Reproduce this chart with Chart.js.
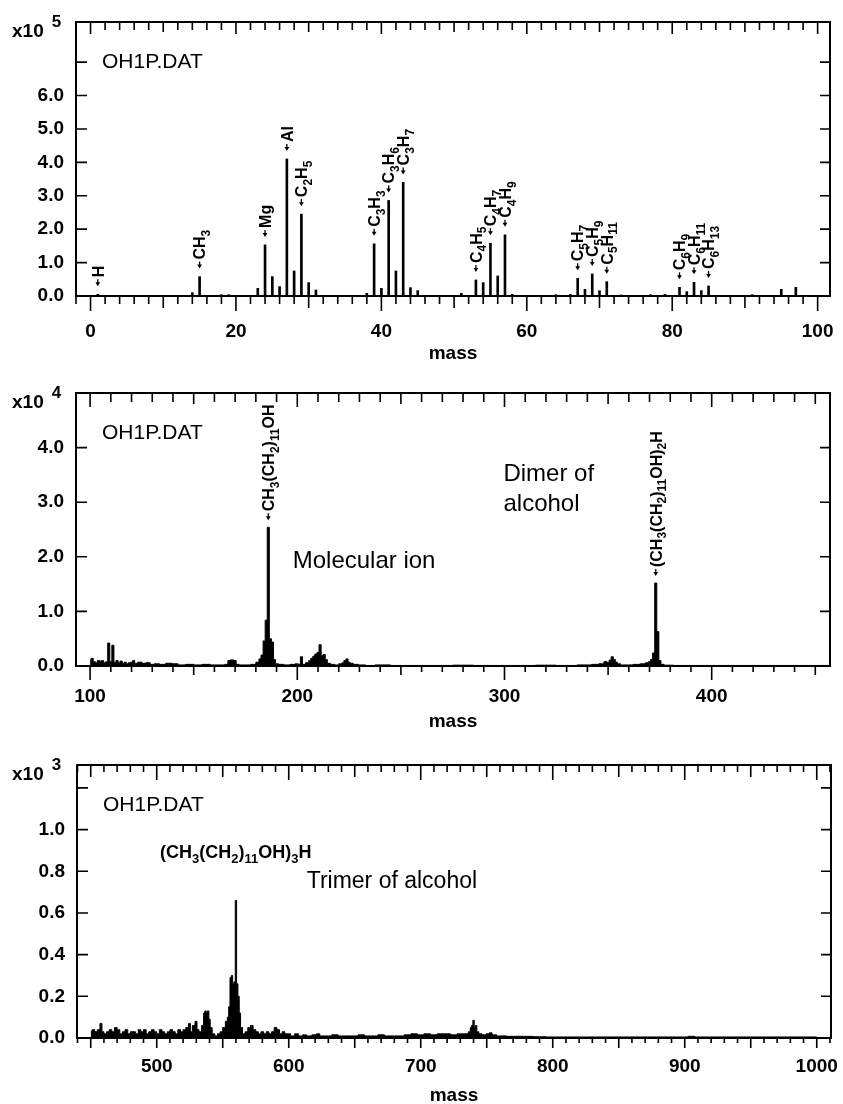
<!DOCTYPE html>
<html lang="en">
<head>
<meta charset="UTF-8" />
<title>OH1P.DAT mass spectra</title>
<script src="https://cdn.jsdelivr.net/npm/chart.js"></script>
<style>
  html, body { margin: 0; background: #fff; overflow: hidden; }
  canvas { position: absolute; left: 0; }
  #c1 { top: 0; }
  #c2 { top: 372px; }
  #c3 { top: 736px; }
</style>
</head>
<body>
<canvas id="c1" width="843" height="372"></canvas>
<canvas id="c2" width="843" height="364"></canvas>
<canvas id="c3" width="843" height="372"></canvas>
<script>
const FONT = '"Liberation Sans", Arial, Helvetica, sans-serif';

// fragment region, intensity x10^5
const lowMass   = [1, 14, 15, 18, 19, 23, 24, 25, 26, 27, 28, 29, 30, 31, 38, 39, 40, 41, 42, 43, 44, 45, 51, 53, 54, 55, 56, 57, 58, 64, 66, 67, 68, 69, 70, 71, 73, 77, 79, 81, 82, 83, 84, 85, 91, 95, 97];
const lowCounts = [0.05, 0.1, 0.58, 0.04, 0.04, 0.23, 1.53, 0.58, 0.28, 4.1, 0.75, 2.45, 0.4, 0.18, 0.08, 1.56, 0.23, 2.86, 0.75, 3.4, 0.25, 0.16, 0.08, 0.48, 0.4, 1.58, 0.6, 1.83, 0.05, 0.04, 0.05, 0.53, 0.2, 0.66, 0.16, 0.43, 0.03, 0.04, 0.05, 0.26, 0.13, 0.41, 0.16, 0.3, 0.04, 0.2, 0.26];
const lowTagMass = [1, 15, 24, 27, 29, 39, 41, 43, 53, 55, 57, 67, 69, 71, 81, 83, 85];
const lowTagText = ['H', 'CH_3', 'Mg', 'Al', 'C_2H_5', 'C_3H_3', 'C_3H_6', 'C_3H_7', 'C_4H_5', 'C_4H_7', 'C_4H_9', 'C_5H_7', 'C_5H_9', 'C_5H_11', 'C_6H_9', 'C_6H_11', 'C_6H_13'];
const lowXLabels = [0, 20, 40, 60, 80, 100];
const lowYLabels = [0, 1, 2, 3, 4, 5, 6];

// monomer / dimer region, intensity x10^4
const midMass   = [100, 101, 102, 103, 104, 105, 106, 107, 108, 109, 110, 111, 112, 113, 114, 115, 116, 117, 118, 119, 120, 121, 122, 124, 126, 128, 130, 132, 135, 138, 141, 144, 148, 152, 156, 160, 164, 166, 167, 168, 169, 170, 171, 173, 176, 179, 181, 182, 183, 184, 185, 186, 187, 188, 189, 190, 192, 195, 198, 200, 201, 202, 203, 205, 206, 207, 208, 209, 210, 211, 212, 213, 214, 215, 217, 219, 221, 222, 223, 224, 225, 226, 228, 231, 235, 240, 250, 260, 270, 280, 290, 300, 310, 320, 330, 340, 344, 347, 349, 350, 351, 352, 353, 354, 355, 357, 360, 364, 367, 369, 370, 371, 372, 373, 374, 375, 376, 378, 385, 400, 420, 440, 457];
const midCounts = [0.11, 0.14, 0.08, 0.06, 0.1, 0.09, 0.1, 0.06, 0.08, 0.42, 0.08, 0.38, 0.07, 0.1, 0.06, 0.09, 0.05, 0.07, 0.04, 0.06, 0.07, 0.1, 0.05, 0.07, 0.05, 0.06, 0.03, 0.04, 0.03, 0.05, 0.04, 0.02, 0.03, 0.02, 0.03, 0.02, 0.02, 0.03, 0.1, 0.11, 0.11, 0.1, 0.03, 0.02, 0.02, 0.03, 0.07, 0.13, 0.2, 0.46, 0.84, 2.54, 0.5, 0.44, 0.12, 0.04, 0.03, 0.02, 0.03, 0.04, 0.03, 0.17, 0.03, 0.06, 0.1, 0.14, 0.18, 0.22, 0.25, 0.39, 0.19, 0.21, 0.12, 0.05, 0.03, 0.02, 0.04, 0.06, 0.1, 0.13, 0.07, 0.05, 0.03, 0.02, 0.01, 0.02, 0.01, 0.01, 0.01, 0.015, 0.01, 0.01, 0.01, 0.015, 0.01, 0.02, 0.03, 0.04, 0.08, 0.06, 0.11, 0.17, 0.12, 0.07, 0.04, 0.02, 0.02, 0.03, 0.04, 0.06, 0.08, 0.12, 0.24, 1.52, 0.63, 0.1, 0.03, 0.015, 0.01, 0.01, 0.01, 0.01, 0.01];
const midTagMass = [186, 373];
const midTagText = ['CH_3(CH_2)_11OH', '(CH_3(CH_2)_11OH)_2H'];
const midXLabels = [100, 200, 300, 400];
const midYLabels = [0, 1, 2, 3, 4];

// trimer region, intensity x10^3
const highMass   = [450, 452, 454, 456, 458, 459, 461, 463, 465, 467, 469, 471, 473, 475, 477, 479, 481, 483, 485, 487, 489, 491, 493, 495, 497, 499, 501, 503, 505, 507, 509, 511, 513, 515, 517, 519, 521, 523, 525, 526, 528, 530, 531, 533, 535, 536, 537, 538, 539, 540, 541, 543, 545, 547, 549, 551, 553, 554, 555, 556, 557, 558, 559, 560, 561, 562, 563, 564, 566, 568, 570, 572, 574, 576, 578, 580, 582, 584, 586, 588, 590, 592, 594, 596, 598, 600, 603, 606, 609, 612, 615, 620, 622, 625, 630, 635, 640, 645, 650, 655, 660, 665, 670, 675, 680, 685, 690, 695, 700, 705, 710, 715, 720, 725, 730, 735, 737, 738, 739, 740, 741, 742, 743, 745, 748, 751, 753, 755, 760, 770, 780, 790, 800, 850, 900, 905, 910, 950, 1000];
const highCounts = [0.03, 0.04, 0.03, 0.04, 0.07, 0.03, 0.02, 0.03, 0.04, 0.03, 0.05, 0.04, 0.02, 0.03, 0.04, 0.02, 0.03, 0.03, 0.02, 0.04, 0.03, 0.04, 0.02, 0.03, 0.04, 0.03, 0.02, 0.04, 0.03, 0.02, 0.03, 0.04, 0.03, 0.02, 0.04, 0.03, 0.04, 0.05, 0.07, 0.03, 0.06, 0.08, 0.04, 0.03, 0.06, 0.12, 0.13, 0.12, 0.13, 0.09, 0.05, 0.02, 0.01, 0.02, 0.03, 0.05, 0.08, 0.1, 0.15, 0.29, 0.3, 0.26, 0.27, 0.66, 0.26, 0.2, 0.12, 0.05, 0.02, 0.03, 0.05, 0.06, 0.04, 0.03, 0.02, 0.03, 0.02, 0.03, 0.02, 0.03, 0.05, 0.04, 0.02, 0.03, 0.02, 0.02, 0.01, 0.02, 0.01, 0.015, 0.01, 0.015, 0.02, 0.01, 0.01, 0.015, 0.01, 0.01, 0.01, 0.015, 0.01, 0.01, 0.015, 0.01, 0.01, 0.01, 0.015, 0.02, 0.015, 0.02, 0.015, 0.02, 0.02, 0.015, 0.02, 0.02, 0.03, 0.05, 0.06, 0.085, 0.05, 0.06, 0.03, 0.02, 0.015, 0.02, 0.025, 0.015, 0.01, 0.008, 0.008, 0.006, 0.005, 0.005, 0.005, 0.008, 0.005, 0.005, 0.005];
const highXLabels = [500, 600, 700, 800, 900, 1000];
const highYLabels = [0, 0.2, 0.4, 0.6, 0.8, 1.0];

const toPoints = (xs, ys) => xs.map((m, i) => ({ x: m, y: ys[i] }));

// text with "_digits" drawn as subscripts, returns the advance width
function drawFormula(ctx, str, x, y, size, weight) {
  const subSize = Math.round(size * 0.72);
  let cx = x;
  str.split(/(_\d+)/).forEach(part => {
    if (!part) return;
    const sub = part[0] === '_';
    const s = sub ? part.slice(1) : part;
    ctx.font = `${weight} ${sub ? subSize : size}px ${FONT}`;
    ctx.fillText(s, cx, sub ? y + size * 0.3 : y);
    cx += ctx.measureText(s).width;
  });
  return cx - x;
}

const spectrumFrame = {
  id: 'spectrumFrame',
  afterDatasetsDraw(chart, args, o) {
    const { ctx, chartArea: a, scales: { x, y } } = chart;
    ctx.save();
    ctx.strokeStyle = '#000';
    ctx.fillStyle = '#000';

    // axis box
    ctx.lineWidth = 2;
    ctx.strokeRect(a.left, a.top, a.right - a.left, a.bottom - a.top);

    // tick marks: outward on the bottom, inward everywhere else
    ctx.lineWidth = 1.6;
    ctx.beginPath();
    const first = Math.ceil(x.min / o.xStep[0]) * o.xStep[0];
    for (let v = first; v <= x.max; v += o.xStep[0]) {
      const k = v % o.xStep[2] === 0 ? 2 : v % o.xStep[1] === 0 ? 1 : 0;
      const px = x.getPixelForValue(v);
      ctx.moveTo(px, a.bottom); ctx.lineTo(px, a.bottom + o.down[k]);
      ctx.moveTo(px, a.top); ctx.lineTo(px, a.top + o.up[k]);
    }
    o.yTicks.forEach(v => {
      const py = y.getPixelForValue(v);
      ctx.moveTo(a.left, py); ctx.lineTo(a.left + 11, py);
      ctx.moveTo(a.right, py); ctx.lineTo(a.right - 10, py);
    });
    ctx.stroke();

    // exponent of the intensity axis
    ctx.textBaseline = 'alphabetic';
    ctx.textAlign = 'left';
    ctx.font = `bold 19px ${FONT}`;
    ctx.fillText('x10', 12, a.top + 15);
    const w = ctx.measureText('x10').width;
    ctx.font = `bold 17px ${FONT}`;
    ctx.fillText(o.exponent, 12 + w + 8, a.top + 5);

    // file name
    ctx.font = `21px ${FONT}`;
    ctx.fillText('OH1P.DAT', a.left + 26, a.top + 46);

    // free captions, placed in data units
    (o.notes || []).forEach(n => {
      const px = x.getPixelForValue(n.mass);
      const py = y.getPixelForValue(n.value);
      if (n.formula) drawFormula(ctx, n.text, px, py, n.size, n.weight);
      else { ctx.font = `${n.weight} ${n.size}px ${FONT}`; ctx.fillText(n.text, px, py); }
    });

    // vertical peak labels with a down arrow over each assigned peak
    const tags = o.tags;
    if (tags) {
      tags.mass.forEach((m, i) => {
        const val = tags.counts[tags.masses.indexOf(m)];
        const px = x.getPixelForValue(m);
        const py = y.getPixelForValue(val) - tags.gap;
        ctx.save();
        ctx.translate(px, py);
        ctx.rotate(-Math.PI / 2);
        ctx.lineWidth = 1.3;
        ctx.beginPath();
        ctx.moveTo(2, 0); ctx.lineTo(7, 0);
        ctx.stroke();
        ctx.beginPath();
        ctx.moveTo(0, 0); ctx.lineTo(4, -2.4); ctx.lineTo(4, 2.4); ctx.closePath();
        ctx.fill();
        drawFormula(ctx, tags.text[i], 9, tags.size * 0.36, tags.size, 'bold');
        ctx.restore();
      });
    }
    ctx.restore();
  }
};

function spectrumChart(id, c) {
  const tickFont = { family: FONT, size: 19, weight: 'bold' };
  return new Chart(document.getElementById(id), {
    type: c.type,
    data: { datasets: [c.dataset] },
    options: {
      responsive: false,
      animation: false,
      layout: { padding: { left: 0, right: 843 - c.right, top: c.top, bottom: 0 } },
      plugins: {
        legend: { display: false },
        tooltip: { enabled: false },
        spectrumFrame: c.frame
      },
      scales: {
        x: {
          type: 'linear', min: c.xMin, max: c.xMax, offset: false,
          grid: { display: false, drawTicks: false },
          border: { display: false },
          afterBuildTicks: s => { s.ticks = c.xLabels.map(v => ({ value: v })); },
          afterFit: s => { s.height = c.xHeight; s.paddingLeft = 0; s.paddingRight = 0; },
          ticks: { color: '#000', font: tickFont, padding: c.xPad, maxRotation: 0, autoSkip: false, callback: v => String(v) },
          title: { display: true, text: 'mass', color: '#000', font: tickFont, padding: { top: 0, bottom: c.titlePad } }
        },
        y: {
          type: 'linear', min: 0, max: c.yMax,
          grid: { display: false, drawTicks: false },
          border: { display: false },
          afterBuildTicks: s => { s.ticks = c.yLabels.map(v => ({ value: v })); },
          afterFit: s => { s.width = c.left; s.paddingTop = 0; s.paddingBottom = 0; },
          ticks: { color: '#000', font: tickFont, padding: 12, autoSkip: false, callback: v => v.toFixed(1) }
        }
      }
    },
    plugins: [spectrumFrame]
  });
}

spectrumChart('c1', {
  type: 'bar',
  dataset: { data: toPoints(lowMass, lowCounts), backgroundColor: '#000', barThickness: 2 },
  left: 76, right: 830, top: 22, xHeight: 76, xPad: 24, titlePad: 7,
  xMin: -2, xMax: 101.7, yMax: 8.2,
  xLabels: lowXLabels, yLabels: lowYLabels,
  frame: {
    xStep: [2, 10, 20], down: [8, 12, 15], up: [8, 10, 12],
    yTicks: [0, 1, 2, 3, 4, 5, 6, 7], exponent: '5',
    tags: { mass: lowTagMass, text: lowTagText, masses: lowMass, counts: lowCounts, gap: 8, size: 16 }
  }
});

spectrumChart('c2', {
  type: 'line',
  dataset: { data: toPoints(midMass, midCounts), borderColor: '#000', backgroundColor: '#000', borderWidth: 1, pointRadius: 0, stepped: 'middle', fill: 'origin' },
  left: 76, right: 830, top: 21, xHeight: 70, xPad: 19, titlePad: 3,
  xMin: 93.2, xMax: 457.1, yMax: 5.0,
  xLabels: midXLabels, yLabels: midYLabels,
  frame: {
    xStep: [10, 50, 100], down: [6, 9, 14], up: [9, 11, 14],
    yTicks: [0, 1, 2, 3, 4], exponent: '4',
    tags: { mass: midTagMass, text: midTagText, masses: midMass, counts: midCounts, gap: 7, size: 16 },
    notes: [
      { text: 'Molecular ion', mass: 197.8, value: 1.8, size: 24, weight: 'normal' },
      { text: 'Dimer of', mass: 299.5, value: 3.39, size: 24, weight: 'normal' },
      { text: 'alcohol', mass: 299.5, value: 2.84, size: 24, weight: 'normal' }
    ]
  }
});

spectrumChart('c3', {
  type: 'line',
  dataset: { data: toPoints(highMass, highCounts), borderColor: '#000', backgroundColor: '#000', borderWidth: 1, pointRadius: 0, stepped: 'middle', fill: 'origin' },
  left: 77, right: 831, top: 29, xHeight: 70, xPad: 17, titlePad: 1,
  xMin: 439.6, xMax: 1010.8, yMax: 1.31,
  xLabels: highXLabels, yLabels: highYLabels,
  frame: {
    xStep: [10, 50, 100], down: [5, 10, 10], up: [7, 12, 15],
    yTicks: [0, 0.2, 0.4, 0.6, 0.8, 1.0, 1.2], exponent: '3',
    notes: [
      { text: '(CH_3(CH_2)_11OH)_3H', mass: 502.5, value: 0.865, size: 18, weight: 'bold', formula: true },
      { text: 'Trimer of alcohol', mass: 613.6, value: 0.72, size: 23, weight: 'normal' }
    ]
  }
});
</script>
</body>
</html>
